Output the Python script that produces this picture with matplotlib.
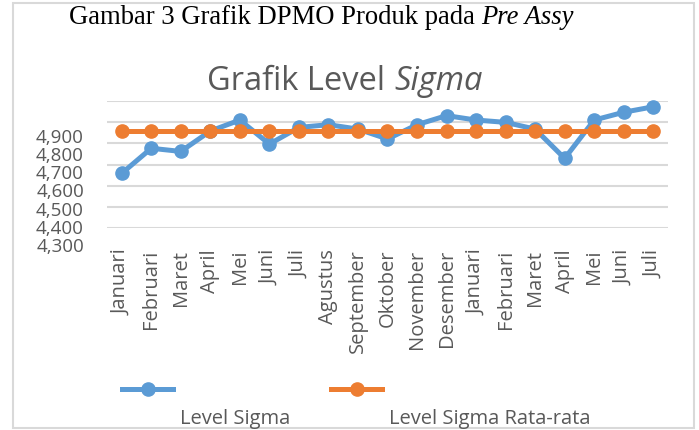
import matplotlib
matplotlib.use('Agg')
import matplotlib.pyplot as plt
from matplotlib.lines import Line2D
from matplotlib.patches import Rectangle
from matplotlib.text import Annotation

# ---------------- data ----------------
months = ["Januari", "Februari", "Maret", "April", "Mei", "Juni", "Juli",
          "Agustus", "September", "Oktober", "November", "Desember",
          "Januari", "Februari", "Maret", "April", "Mei", "Juni", "Juli"]
level_sigma = [4558, 4677, 4662, 4759, 4811, 4697, 4776, 4789, 4768, 4721,
               4789, 4832, 4811, 4800, 4768, 4629, 4811, 4848, 4874]
level_sigma_avg = [4757, 4757, 4757, 4757, 4757, 4757, 4757, 4757, 4757, 4757,
                   4757, 4757, 4757, 4757, 4757, 4757, 4757, 4757, 4757]
y_ticks = [4300, 4400, 4500, 4600, 4700, 4800, 4900]
y_tick_labels = ["4,300", "4,400", "4,500", "4,600", "4,700", "4,800", "4,900"]
series_names = ["Level Sigma", "Level Sigma Rata-rata"]

BLUE = "#5B9BD5"
ORANGE = "#ED7D31"
GREY = "#595959"
GRID = "#D9D9D9"
SANS = ["Open Sans", "DejaVu Sans"]
SERIF = ["Liberation Serif", "DejaVu Serif"]

W, H = 699, 431
def fx(px):
    return px / W
def fy(py):
    return 1 - py / H

fig = plt.figure(figsize=(W / 100, H / 100), dpi=100)
fig.patch.set_facecolor("white")

# outer frame
fig.patches.append(Rectangle((fx(13), fy(429)), (694 - 13) / W, (429 - 4) / H,
                             transform=fig.transFigure, fill=False,
                             edgecolor=GRID, linewidth=1.5))

# ---------------- main axes ----------------
top_px, bot_px = 102.3, 228.7
ax = fig.add_axes([fx(107), fy(bot_px), (668 - 107) / W, (bot_px - top_px) / H])
x = list(range(len(months)))
ax.set_xlim(-0.5, len(months) - 0.5)
ax.set_ylim(4300, 4900)
ax.set_yticks(y_ticks)
ax.yaxis.grid(True, color=GRID, linewidth=1.5)
ax.set_axisbelow(True)
for s in ax.spines.values():
    s.set_visible(False)
ax.tick_params(left=False, labelleft=False, bottom=False, pad=11.5)
ax.set_xticks(x)
ax.set_xticklabels(months, rotation=90, va="top", ha="center",
                   fontsize=14.5, color=GREY, family=SANS)
ax.patch.set_visible(False)

ax.plot(x, level_sigma, color=BLUE, lw=3.6, marker="o", ms=9.5,
        clip_on=False, zorder=3, solid_joinstyle="round")
ax.plot(x, level_sigma_avg, color=ORANGE, lw=3.6, marker="o", ms=9.5,
        clip_on=False, zorder=4)

# y tick labels (rendered on their own axis, as in the reference)
lab_top, lab_bot = 136, 245
lax = fig.add_axes([fx(84), fy(lab_bot), 0.001, (lab_bot - lab_top) / H])
lax.set_ylim(4300, 4900)
lax.set_yticks(y_ticks)
lax.set_yticklabels(y_tick_labels, fontsize=13.5, color=GREY, family=SANS)
lax.set_xticks([])
lax.tick_params(length=0, pad=0)
for s in lax.spines.values():
    s.set_visible(False)
lax.patch.set_visible(False)

# ---------------- caption ----------------
cap = fig.text(fx(69), fy(24), "Gambar 3 Grafik DPMO Produk pada",
               family=SERIF, fontsize=19.2, color="black", va="baseline", ha="left")
cap_it = Annotation("Pre Assy", xy=(1, 0), xycoords=cap, xytext=(6, 0),
                    textcoords="offset pixels", va="bottom", ha="left",
                    family=SERIF, fontsize=19.2, style="italic", color="black")
fig.add_artist(cap_it)

# ---------------- chart title ----------------
tt = fig.text(fx(207), fy(90), "Grafik Level", family=SANS, fontsize=23.5,
              color=GREY, va="baseline", ha="left")
tt_it = Annotation("Sigma", xy=(1, 0), xycoords=tt, xytext=(9, 0),
                   textcoords="offset pixels", va="bottom", ha="left",
                   family=SANS, fontsize=23.5, style="italic", color=GREY)
fig.add_artist(tt_it)

# ---------------- legend ----------------
hl = 51 / (10 * 100 / 72)
for col, xs, name, xt in [(BLUE, 122, series_names[0], 180),
                          (ORANGE, 331, series_names[1], 389)]:
    h = Line2D([], [], color=col, lw=3.6, marker="o", ms=9.5)
    fig.legend(handles=[h], labels=[""], loc="center left",
               bbox_to_anchor=(fx(xs), fy(391)), frameon=False,
               handlelength=hl, handletextpad=0, borderpad=0,
               borderaxespad=0, fontsize=10)
    fig.text(fx(xt), fy(424), name, family=SANS, fontsize=14.5, color=GREY,
             va="baseline", ha="left")

fig.savefig("out.png", dpi=100)
